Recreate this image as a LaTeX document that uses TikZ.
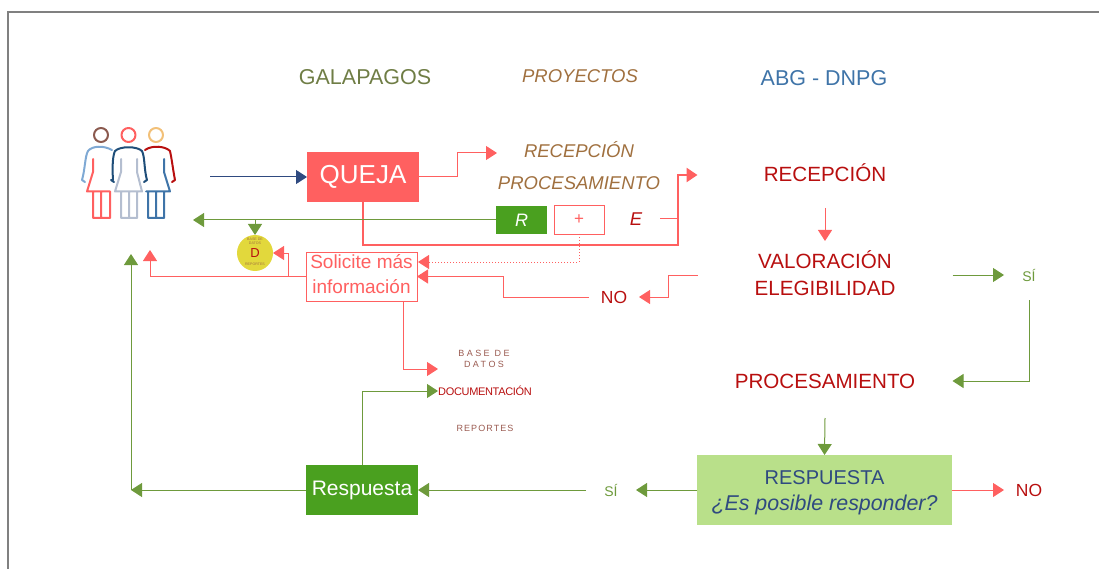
\documentclass[tikz,border=0pt]{standalone}
\usepackage{fontspec}
\setmainfont{Liberation Sans}
\usetikzlibrary{arrows.meta}
\definecolor{pinkline}{HTML}{FF6060}
\definecolor{greenline}{HTML}{6E9A3C}
\definecolor{greenbox}{HTML}{4AA01F}
\definecolor{lightbox}{HTML}{B9E08A}
\definecolor{darkred}{HTML}{B80F0F}
\definecolor{brown}{HTML}{A0703F}
\definecolor{navy}{HTML}{2F4A80}
\definecolor{steel}{HTML}{3F74A8}
\definecolor{haze}{HTML}{B4BED0}
\definecolor{sky}{HTML}{7FA9D4}
\definecolor{deep}{HTML}{1F4E79}
\definecolor{moss}{HTML}{6F7D45}
\definecolor{dyellow}{HTML}{E2D83C}
\definecolor{headbrown}{HTML}{8B5A4F}
\definecolor{headsand}{HTML}{F2C078}
\definecolor{dusty}{HTML}{9A5A50}
\begin{document}
\begin{tikzpicture}[x=1pt, y=-1pt,
	base/.style = {inner sep=0pt, outer sep=0pt, align=center},
	head/.style = {base, font=\fontsize{21.5}{25}\selectfont},
	ital/.style = {base, text=brown, font=\fontsize{18.5}{22}\selectfont\itshape},
	stage/.style = {base, text=darkred, minimum width=255pt, font=\fontsize{20.6}{27}\selectfont},
	tiny/.style = {base, text=dusty, font=\fontsize{9}{11}\selectfont\addfontfeature{LetterSpace=27}},
	dot/.style = {base, text=brown, font=\fontsize{3.6}{4.4}\selectfont},
	answer/.style = {base, minimum width=50pt, minimum height=50pt},
	redbox/.style = {base, draw=pinkline, text=pinkline, fill=white},
	solid/.style = {base, text=white},
	pinkarrow/.style = {draw=pinkline, line width=1pt, -{Triangle[length=11pt,width=14pt]}},
	greenarrow/.style = {draw=greenline, line width=1pt, -{Triangle[length=11pt,width=14pt]}},
	person/.style = {line width=2pt, line cap=round, line join=round}]

		\useasboundingbox (0,0) rectangle (1099,569);
		\draw[gray, line width=1.2pt] (8,569) -- (8,12) -- (1099,12);

		\node[head, text=moss] (galapagos) at (365,77) {GALAPAGOS};
		\node[ital] (proyectos) at (580,76) {PROYECTOS};
		\node[head, text=steel] (abg) at (824,78) {ABG - DNPG};

		\draw[person, draw=headbrown] (101,135) circle (7);
		\draw[person, draw=pinkline] (128.5,135) circle (7);
		\draw[person, draw=headsand] (156,135) circle (7);
		\draw[person, draw=sky] (112,150) .. controls (103,145) and (92,146) .. (88,151) .. controls (85,156) and (85,170) .. (82,180) -- (85,182);
		\draw[person, draw=deep] (111,180) -- (114,182) (113,180) .. controls (112,165) and (113,155) .. (115,151) .. controls (120,146) and (137,146) .. (142,151) .. controls (145,157) and (144,170) .. (147,180) -- (144,182);
		\draw[person, draw=darkred] (145,150) .. controls (152,145) and (165,146) .. (170,151) .. controls (172,160) and (173,170) .. (175,180) -- (172,182);
		\draw[person, draw=pinkline] (93,159) -- (93,172) -- (87,191.5) -- (110,191.5) (93,191.5) rectangle (110,218) (101,191.5) -- (101,218);
		\draw[person, draw=haze] (121,159) -- (121,172) -- (115,191.5) -- (142,191.5) -- (137,172) -- (137,159) (121,191.5) rectangle (137,218) (129,191.5) -- (129,218);
		\draw[person, draw=steel] (164,159) -- (164,172) -- (170,191.5) -- (146,191.5) (148,191.5) rectangle (164,218) (156,191.5) -- (156,218);

		\coordinate (peoplein) at (210,177);
		\coordinate (peopleout) at (193,220);
		\coordinate (peopleup1) at (150,250);
		\coordinate (peopleup2) at (131,254);
		\coordinate (turn) at (131,490);

		\node[base, fill=pinkline, text=white, minimum width=112pt, minimum height=50pt, font=\fontsize{26}{30}\selectfont] (queja) at (363,177) {QUEJA};
		\node[ital, minimum width=164pt, text depth=7pt] (recepcionp) at (579,153) {RECEPCIÓN};
		\node[ital, minimum width=164pt] (procesamientop) at (579,183) {PROCESAMIENTO};
		\node[solid, fill=greenbox, minimum width=51pt, minimum height=28pt, font=\fontsize{18}{22}\selectfont\itshape] (r) at (521.5,220) {R};
		\node[redbox, minimum width=50pt, minimum height=29pt, font=\fontsize{17}{18}\selectfont] (mas) at (579,219.5) {+};
		\node[base, text=darkred, minimum width=48pt, font=\fontsize{18.5}{22}\selectfont\itshape] (e) at (636,219) {E};

		\node[base, circle, fill=dyellow, minimum size=36pt, text=darkred, font=\fontsize{13}{15}\selectfont] (d) at (255,253) {D};
		\node[dot] (dbase) at (255,241) {BASE DE\\DATOS};
		\node[dot] (dreportes) at (255,264.5) {REPORTES};
		\node[redbox, minimum width=111pt, minimum height=49pt, text depth=4pt, font=\fontsize{19}{25}\selectfont] (solicite) at (361.5,276.5) {Solicite más\\información};

		\node[stage, minimum height=66pt, text depth=4pt] (recepcion) at (825,175) {RECEPCIÓN};
		\node[stage, minimum height=68pt, text depth=4pt] (valoracion) at (825,275) {VALORACIÓN\\ELEGIBILIDAD};
		\node[stage, minimum height=74pt] (procesamiento) at (825,381) {PROCESAMIENTO};
		\node[base, fill=lightbox, text=navy, minimum width=255pt, minimum height=70pt, font=\fontsize{20}{26}\selectfont] (respuesta) at (824.5,490) {\rule{0pt}{19pt}RESPUESTA\\{\fontsize{21.4}{26}\selectfont\itshape ¿Es posible responder?}};

		\node[answer, text=greenline, font=\fontsize{14}{16}\selectfont] (si1) at (1029,275) {SÍ};
		\node[answer, text=darkred, font=\fontsize{17.5}{20}\selectfont] (no1) at (614,297) {NO};
		\node[answer, text=darkred, font=\fontsize{17.5}{20}\selectfont] (no2) at (1029,490) {NO};
		\node[answer, text=greenline, font=\fontsize{14}{16}\selectfont] (si2) at (611,490) {SÍ};
		\node[solid, fill=greenbox, minimum width=112pt, minimum height=50pt, font=\fontsize{21}{25}\selectfont] (contesta) at (362,490) {Respuesta};

		\node[tiny, minimum width=92pt, minimum height=20pt] (basedatos) at (484,359) {BASE DE\\DATOS};
		\node[base, text=darkred, minimum width=94pt, font=\fontsize{11}{13}\selectfont\addfontfeature{LetterSpace=-3}] (documentacion) at (485,391) {DOCUMENTACIÓN};
		\node[tiny, font=\fontsize{9}{11}\selectfont\addfontfeature{LetterSpace=12}] (reportes) at (485,428) {REPORTES};

		\coordinate (qa) at (457,153);
		\coordinate (qb) at (678,245);
		\coordinate (eb) at (678,219);
		\coordinate (rb) at (255,220);
		\coordinate (sa) at (418,262);
		\coordinate (sb) at (403,301);
		\coordinate (sc) at (288,276.5);
		\coordinate (nb) at (503,297);
		\coordinate (vb) at (668,275);

		\draw[navy, line width=1pt, -{Triangle[length=11pt,width=14pt]}] (peoplein) -- (queja.west);
		\draw[pinkarrow] (queja.east) -| (qa) -- (recepcionp.west);
		\draw[pinkarrow, line width=2.6pt] (queja.south) |- (qb) |- (recepcion.west);
		\draw[draw=pinkline, line width=1pt] (e.east) -- (eb);
		\draw[greenarrow] (r.west) -- (peopleout);
		\draw[greenarrow] (rb) -- (d.north);
		\draw[pinkarrow, dotted, -{Triangle[length=11pt,width=14pt]}] (mas.south) |- (sa);
		\draw[pinkarrow] (solicite.west) -| (peopleup1);
		\draw[pinkarrow] (sc) |- (d.east);
		\draw[pinkarrow] (sb) |- (basedatos.south west);
		\draw[pinkarrow] (valoracion.west) -| (vb) |- (no1.east);
		\draw[pinkarrow] (no1.west) -| (nb) |- (solicite.east);
		\draw[pinkarrow] (recepcion.south) -- (valoracion.north);
		\draw[greenarrow] (valoracion.east) -- (si1.west);
		\draw[greenarrow] (si1.south) |- (procesamiento.east);
		\draw[greenarrow] (procesamiento.south) -- (respuesta.north);
		\draw[pinkarrow] (respuesta.east) -- (no2.west);
		\draw[greenarrow] (respuesta.west) -- (si2.east);
		\draw[greenarrow] (si2.west) -- (contesta.east);
		\draw[greenarrow] (contesta.west) -- (turn);
		\draw[greenarrow] (turn) -- (peopleup2);
		\draw[greenarrow] (contesta.north) |- (documentacion.west);
	\end{tikzpicture}
\end{document}
